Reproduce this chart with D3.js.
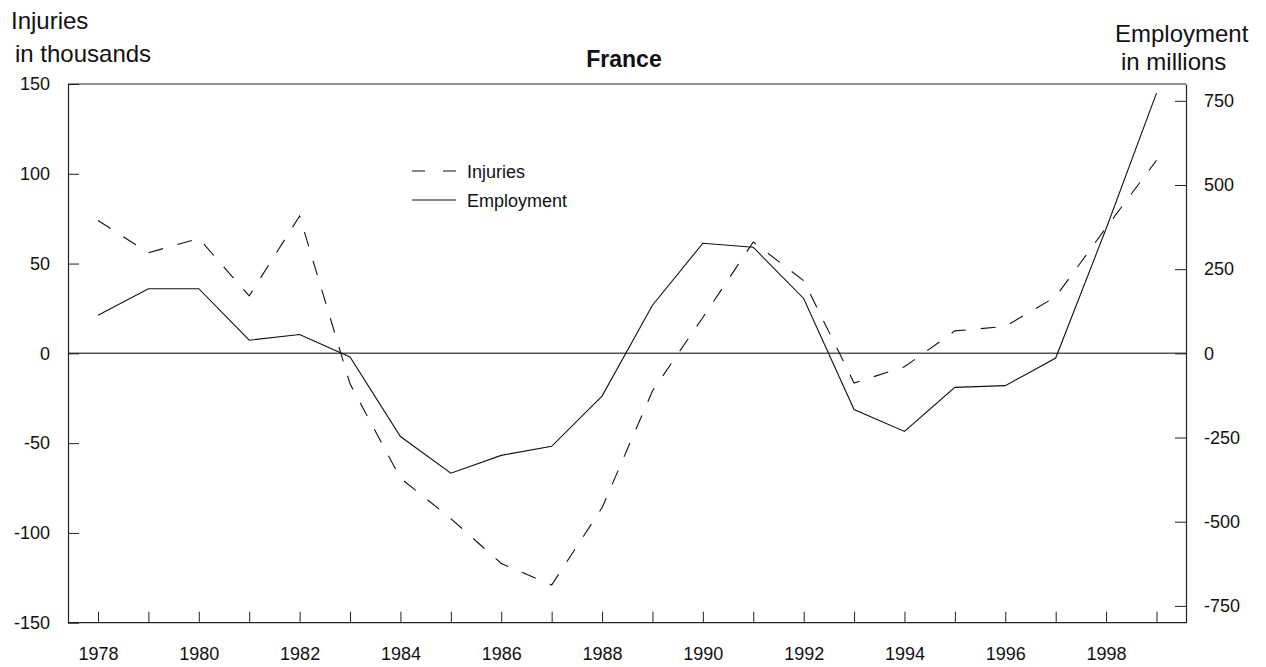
<!DOCTYPE html>
<html>
<head>
<meta charset="utf-8">
<script src="https://cdn.jsdelivr.net/npm/d3@7"></script>
<style>
  body { margin: 0; background: #fff; }
  svg text { font-family: "Liberation Sans", Arial, Helvetica, sans-serif; fill: #111; }
  .axis path, .axis line { stroke: #222; }
</style>
</head>
<body>
<div id="chart"></div>
<script>
const years = d3.range(1978, 2000);
const injuries = [74, 56, 64, 32, 76.5, -17, -69.5, -92, -117, -129, -86, -21,
                  20, 62, 40.5, -16.5, -7.5, 12.5, 15, 31.5, 70, 107.5];
const employment = [113, 192, 192, 39, 56, -11, -247, -356, -303, -276, -127, 143,
                    327, 315, 163, -167, -232, -101, -96, -14, 370, 773];
const leftTicks = [-150, -100, -50, 0, 50, 100, 150];
const rightTicks = [-750, -500, -250, 0, 250, 500, 750];

const width = 1266, height = 667;
const plot = { left: 68, right: 1186, top: 84, bottom: 622.7 };

const svg = d3.select('#chart')
  .append('svg')
  .attr('width', width)
  .attr('height', height);

const x = d3.scaleLinear().domain([1978, 1999]).range([98, 1156.5]);
const yL = d3.scaleLinear().domain([-150, 150]).range([plot.bottom, plot.top]);
const yR = d3.scaleLinear().domain([-800, 800]).range([plot.bottom, plot.top]);

// zero line
svg.append('line')
  .attr('x1', plot.left).attr('x2', plot.right)
  .attr('y1', yL(0)).attr('y2', yL(0))
  .attr('stroke', '#555').attr('stroke-width', 1.5);

// top border
svg.append('line')
  .attr('x1', plot.left).attr('x2', plot.right)
  .attr('y1', plot.top).attr('y2', plot.top)
  .attr('stroke', '#222').attr('stroke-width', 1.2);

// axes (plain hyphen for negatives, like the original)
const plain = d => String(d);

const xAxis = d3.axisBottom(x)
  .tickValues(years)
  .tickSize(-11)
  .tickSizeOuter(0)
  .tickFormat(d => (d % 2 === 0 && d < 1999) ? d : '');

const gx = svg.append('g')
  .attr('class', 'axis')
  .attr('transform', `translate(0 ${plot.bottom})`)
  .call(xAxis);
gx.select('.domain').attr('d', `M${plot.left},0H${plot.right}`).attr('stroke-width', 1.2);
gx.selectAll('text').attr('y', 37.5).attr('dy', null).style('font-size', '18px');

const gl = svg.append('g')
  .attr('class', 'axis')
  .attr('transform', `translate(${plot.left} 0)`)
  .call(d3.axisLeft(yL).tickValues(leftTicks).tickFormat(plain)
    .tickSize(-11).tickSizeOuter(0).tickPadding(18));
gl.selectAll('text').style('font-size', '18px');
gl.select('.domain').attr('stroke-width', 1.2);

const gr = svg.append('g')
  .attr('class', 'axis')
  .attr('transform', `translate(${plot.right} 0)`)
  .call(d3.axisRight(yR).tickValues(rightTicks).tickFormat(plain)
    .tickSize(-11).tickSizeOuter(0).tickPadding(18));
gr.selectAll('text').style('font-size', '18px');
gr.select('.domain').attr('stroke-width', 1.2);

svg.selectAll('.axis text').attr('font-family', null);

// lines
const injLine = d3.line().x((d, i) => x(years[i])).y(d => yL(d));
const empLine = d3.line().x((d, i) => x(years[i])).y(d => yR(d));

svg.append('path')
  .datum(injuries)
  .attr('d', injLine)
  .attr('fill', 'none')
  .attr('stroke', '#111')
  .attr('stroke-width', 1.1)
  .attr('stroke-dasharray', '15,15');

svg.append('path')
  .datum(employment)
  .attr('d', empLine)
  .attr('fill', 'none')
  .attr('stroke', '#111')
  .attr('stroke-width', 1.1);

// legend
const legend = svg.append('g');
legend.append('line')
  .attr('x1', 412).attr('x2', 456).attr('y1', 171).attr('y2', 171)
  .attr('stroke', '#111').attr('stroke-width', 1.1).attr('stroke-dasharray', '13,18');
legend.append('text').attr('x', 467).attr('y', 177.5).style('font-size', '18px').text('Injuries');
legend.append('line')
  .attr('x1', 412).attr('x2', 456).attr('y1', 200).attr('y2', 200)
  .attr('stroke', '#111').attr('stroke-width', 1.1);
legend.append('text').attr('x', 467).attr('y', 206.5).style('font-size', '18px').text('Employment');

// titles
svg.append('text')
  .attr('x', 624).attr('y', 67)
  .attr('text-anchor', 'middle')
  .style('font-size', '23px').style('font-weight', 'bold')
  .text('France');

svg.append('text').attr('x', 11).attr('y', 29).style('font-size', '24px').text('Injuries');
svg.append('text').attr('x', 15).attr('y', 62).style('font-size', '24px').text('in thousands');
svg.append('text').attr('x', 1115).attr('y', 42).style('font-size', '24px').text('Employment');
svg.append('text').attr('x', 1121).attr('y', 70).style('font-size', '24px').text('in millions');
</script>
</body>
</html>
